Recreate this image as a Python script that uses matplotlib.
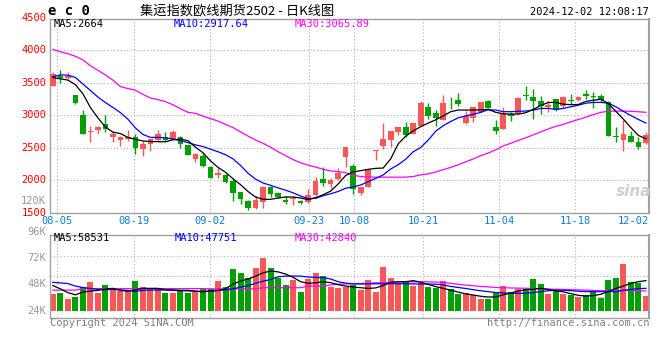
import matplotlib
matplotlib.use("Agg")
import matplotlib.pyplot as plt
import numpy as np

# daily candles, 08-02 .. 12-02 (80 trading days)
opens = [3454, 3608, 3572, 3310, 3003, 2736, 2772, 2864, 2669, 2628,
         2633, 2669, 2479, 2556, 2628, 2669, 2633, 2674, 2546, 2326,
         2377, 2208, 2079, 2085, 1992, 1823, 1685, 1572, 1669, 1900,
         1803, 1695, 1720, 1685, 1674, 1772, 2028, 1951, 2018, 2362,
         2223, 1813, 1900, 2459, 2531, 2623, 2736, 2823, 2710, 2828,
         3131, 3033, 2926, 3192, 3233, 2874, 2951, 3054, 3223, 2813,
         2787, 3018, 3018, 3315, 3285, 3213, 3131, 3249, 3146, 3233,
         3233, 3326, 3300, 3300, 3197, 2685, 2623, 2685, 2582, 2567]
highs = [3669, 3695, 3660, 3310, 3079, 2833, 2833, 3003, 2761, 2685,
         2772, 2720, 2608, 2633, 2772, 2736, 2777, 2685, 2546, 2428,
         2428, 2223, 2197, 2105, 2044, 1828, 1695, 1762, 1915, 1915,
         1823, 1762, 1762, 1695, 1864, 2054, 2208, 2033, 2187, 2515,
         2259, 1900, 2172, 2469, 2879, 2751, 2823, 2890, 2879, 3213,
         3187, 3085, 3315, 3285, 3336, 3069, 3120, 3208, 3233, 2926,
         3131, 3054, 3285, 3454, 3403, 3300, 3213, 3249, 3300, 3326,
         3300, 3387, 3362, 3326, 3213, 2813, 2931, 2751, 2659, 2736]
lows = [3444, 3490, 3555, 3170, 2710, 2597, 2720, 2736, 2597, 2530,
        2608, 2413, 2377, 2454, 2592, 2608, 2623, 2490, 2392, 2290,
        2208, 2044, 2044, 1967, 1685, 1644, 1541, 1567, 1582, 1746,
        1726, 1644, 1623, 1644, 1659, 1762, 1915, 1890, 2003, 2208,
        1797, 1777, 1900, 2315, 2479, 2515, 2700, 2659, 2710, 2828,
        2941, 2828, 2926, 3095, 3136, 2864, 2900, 3054, 3110, 2720,
        2787, 2905, 3018, 3233, 2941, 3018, 3044, 3069, 3110, 3172,
        3223, 3249, 3110, 3197, 2685, 2597, 2454, 2582, 2480, 2556]
closes = [3633, 3572, 3600, 3182, 2720, 2762, 2823, 2787, 2720, 2659,
          2659, 2505, 2556, 2633, 2710, 2618, 2736, 2556, 2392, 2403,
          2223, 2044, 2120, 1982, 1813, 1710, 1582, 1695, 1905, 1787,
          1746, 1674, 1736, 1659, 1772, 1992, 1967, 2008, 2120, 2515,
          1874, 1900, 2172, 2469, 2633, 2751, 2823, 2700, 2879, 3182,
          2992, 2951, 3187, 3182, 3172, 2982, 3120, 3208, 3110, 2762,
          3033, 2987, 3259, 3290, 3213, 3146, 3162, 3079, 3274, 3213,
          3274, 3300, 3274, 3233, 2685, 2659, 2720, 2597, 2520, 2700]

# moving averages as drawn on the chart
ma5 = [3580, 3560, 3540, 3470, 3330, 3120, 2960, 2820, 2740, 2720,
       2660, 2630, 2605, 2597, 2595, 2592, 2625, 2633, 2610, 2510,
       2425, 2300, 2200, 2125, 2025, 1935, 1830, 1745, 1710, 1710,
       1730, 1746, 1746, 1730, 1705, 1735, 1780, 1835, 1945, 2075,
       2130, 2150, 2170, 2185, 2190, 2330, 2560, 2680, 2760, 2825,
       2880, 2930, 2990, 3055, 3080, 3080, 3080, 3082, 3090, 3045,
       3022, 3018, 3018, 3040, 3090, 3150, 3197, 3197, 3170, 3162,
       3165, 3213, 3230, 3245, 3180, 3060, 2940, 2810, 2690, 2640]
ma10 = [3590, 3620, 3615, 3580, 3480, 3380, 3280, 3195, 3120, 3040,
        2940, 2805, 2705, 2660, 2660, 2655, 2635, 2610, 2580, 2545,
        2520, 2480, 2440, 2395, 2330, 2230, 2110, 2020, 1960, 1925,
        1885, 1850, 1810, 1760, 1720, 1725, 1765, 1795, 1830, 1880,
        1900, 1930, 1980, 2030, 2085, 2175, 2240, 2325, 2440, 2505,
        2620, 2755, 2840, 2905, 2960, 2990, 3015, 3045, 3085, 3080,
        3055, 3055, 3060, 3065, 3080, 3105, 3105, 3090, 3105, 3130,
        3155, 3185, 3197, 3197, 3185, 3130, 3060, 2995, 2935, 2880]
ma30 = [4010, 3975, 3945, 3905, 3850, 3760, 3690, 3620, 3540, 3440,
        3410, 3385, 3320, 3265, 3240, 3210, 3160, 3100, 3045, 3030,
        2985, 2950, 2910, 2860, 2810, 2745, 2680, 2620, 2570, 2510,
        2440, 2380, 2320, 2270, 2235, 2205, 2170, 2145, 2135, 2120,
        2080, 2060, 2052, 2050, 2050, 2050, 2050, 2050, 2060, 2085,
        2100, 2130, 2165, 2200, 2240, 2285, 2330, 2380, 2420, 2470,
        2530, 2570, 2615, 2655, 2700, 2745, 2790, 2830, 2860, 2900,
        2935, 2970, 3010, 3045, 3062, 3064, 3064, 3060, 3054, 3045]

# volume in thousands and its averages
volume = [39.3, 40.5, 34.7, 36.5, 46.0, 50.5, 40.5, 47.5, 42.9, 42.0,
          41.4, 51.5, 45.4, 43.8, 43.8, 40.5, 40.5, 42.9, 40.5, 41.4,
          43.5, 43.5, 51.1, 45.4, 62.1, 58.2, 54.2, 63.3, 72.5, 63.3,
          54.2, 47.5, 52.1, 41.4, 53.0, 58.8, 55.7, 46.0, 45.0, 46.0,
          47.5, 42.9, 52.1, 41.4, 64.3, 54.2, 49.0, 50.5, 46.9, 49.0,
          46.0, 45.0, 51.1, 43.8, 39.3, 40.5, 38.3, 34.7, 34.7, 39.9,
          46.9, 41.4, 43.8, 43.8, 53.0, 48.4, 39.3, 42.3, 39.3, 38.3,
          36.8, 38.3, 42.3, 35.9, 52.1, 53.6, 66.7, 50.5, 49.0, 37.7]
vol_ma5 = [47, 44, 40.5, 38.5, 41, 42, 42.5, 43.8, 44.4, 42.6,
           41.6, 43.2, 44.4, 44.4, 44.4, 43.2, 43, 42.6, 42.6, 41.8,
           41.4, 42, 42.5, 44, 48.5, 51, 53, 55.5, 58.6, 60.3,
           59.5, 57.5, 54.5, 50.5, 49, 49.5, 50.5, 49.6, 47.8, 46.5,
           45.6, 45, 44.4, 44.8, 47, 50, 50.5, 50.5, 51.5, 50,
           48, 46, 44.4, 42.8, 41, 39.4, 38.3, 37.2, 36.5, 36.6,
           38.5, 40.2, 42, 43.2, 43.6, 44.4, 43.4, 42.2, 41.2, 39.6,
           38, 37.4, 37.8, 39, 41.7, 44.4, 46.5, 49, 50.5, 51.5]
vol_ma10 = [49.9, 49.4, 48.8, 46.5, 45.2, 44.3, 43.5, 43.2, 43.5, 43,
            42.5, 41.7, 42.6, 42.9, 42.9, 42.9, 42.6, 42.3, 42.1, 41.8,
            41.4, 42.1, 42.5, 43, 44, 45.5, 47, 49, 51, 52.5,
            55, 55.6, 55.7, 55.6, 54.8, 54.5, 54.2, 53, 50.5, 49.2,
            48.6, 48.4, 48.5, 48.6, 48.6, 48.7, 48.7, 48.6, 48.5, 48.4,
            48.4, 48.2, 47.6, 46.2, 45.2, 44.3, 43.2, 42.2, 41.4, 40.6,
            40.2, 39.9, 39.9, 40, 40.5, 41.5, 42.2, 42.8, 42.7, 42.3,
            41.8, 41.5, 41.4, 41.4, 41.4, 41.4, 42.5, 43.5, 44.2, 44.4]
vol_ma30 = [42.8, 42.8, 42.8, 42.8, 44.2, 44.2, 44.2, 44.2, 44.2, 44.2,
            44.2, 44.2, 44.2, 44.2, 44.2, 44.2, 44.2, 44.2, 44.2, 44.2,
            44.2, 44, 44, 44, 44, 44, 44, 44, 45, 45,
            45, 45, 45, 45, 46.5, 46.5, 46.5, 47.5, 48.2, 48.4,
            48.6, 48.8, 49.1, 49.5, 49.7, 50, 50.2, 50.3, 50.4, 50.5,
            50.4, 50.2, 49.8, 49, 48.2, 47.4, 46.8, 46.2, 45.8, 45.2,
            45, 44.8, 44.6, 44.5, 44.3, 44.1, 43.8, 43.6, 43.4, 43.2,
            43, 42.8, 42.5, 42.3, 42.4, 42.5, 42.6, 42.6, 42.3, 42]

date_labels = ["08-05", "08-19", "09-02", "09-23", "10-08", "10-21", "11-04", "11-18", "12-02"]
date_idx = [1, 11, 21, 34, 40, 49, 59, 69, 79]
price_ticks = [1500, 2000, 2500, 3000, 3500, 4000, 4500]
vol_ticks = [24, 48, 72, 96]

RED = "#f65757"
GREEN = "#00a000"
GRID = "#b4b4b4"
FRAME = "#a0a0a0"
W, H = 660, 360
CJK = ["Noto Sans CJK SC", "DejaVu Sans"]
MONO = "DejaVu Sans Mono"


def fx(px):
    return px / W


def fy(py):
    return 1 - py / H


fig = plt.figure(figsize=(W / 100, H / 100), dpi=100)
ax = fig.add_axes([fx(50), fy(213), fx(649.3) - fx(50), fy(18.5) - fy(213)])
axv = fig.add_axes([fx(50), fy(318), fx(649.3) - fx(50), fy(234.7) - fy(318)])

x = np.arange(len(closes))
up = np.array(closes) >= np.array(opens)
colors = np.where(up, RED, GREEN)

# sina draws its date grid on a slightly wider step than the candles
grid_x = [(d - 0.41) * 1.0147 for d in date_idx[:-1]]

for a in (ax, axv):
    a.set_xlim(-0.38, 79.45)
    a.set_xticks([])
    a.set_yticks([])
    for side, sp in a.spines.items():
        sp.set_color(FRAME)
        sp.set_linewidth(1.5 if side == "right" else 1.0)
    for g in grid_x:
        a.axvline(g, color=GRID, lw=0.8, ls=(0, (1, 2)), zorder=0)

# --- price panel
ax.set_ylim(1500, 4485)
for p in price_ticks[1:-1]:
    ax.axhline(p, color=GRID, lw=0.8, ls=(0, (1, 2)), zorder=0)

ax.vlines(x, lows, highs, colors=colors, lw=1.0, zorder=2)
body_lo = np.minimum(opens, closes)
body_h = np.maximum(np.abs(np.subtract(closes, opens)), 12)
ax.bar(x, body_h, bottom=body_lo, width=0.76, color=colors, lw=0, zorder=3)

ax.plot(x, ma30, color="#ff00ff", lw=0.9, zorder=4)
ax.plot(x, ma10, color="#0000ff", lw=0.9, zorder=4)
ax.plot(x, ma5, color="black", lw=0.9, zorder=4)

ytr = ax.get_yaxis_transform()
for p in price_ticks:
    ax.text(-0.006, p, str(p), transform=ytr, ha="right", va="center",
            color="red", family=MONO, fontsize=7.5, clip_on=False)

xtr = ax.get_xaxis_transform()
for lab, g in zip(date_labels[:-1], grid_x):
    ax.text(g, -0.043, lab, transform=xtr, ha="center", va="center",
            color="#0a7fd6", family=MONO, fontsize=7.5, clip_on=False)
ax.text(1.0, -0.043, date_labels[-1], transform=ax.transAxes, ha="right", va="center",
        color="#0a7fd6", family=MONO, fontsize=7.5, clip_on=False)

fig.text(fx(54), fy(24), "MA5:2664", color="black", family=MONO, fontsize=7.5, va="center")
fig.text(fx(174), fy(24), "MA10:2917.64", color="#0000ff", family=MONO, fontsize=7.5, va="center")
fig.text(fx(295), fy(24), "MA30:3065.89", color="#ff00ff", family=MONO, fontsize=7.5, va="center")
fig.text(fx(46), fy(201), "120K", color="#9a9a9a", family=MONO, fontsize=7.5, ha="right", va="center")
fig.text(fx(634), fy(192), "sina", color="#cfcfcf", fontsize=11, style="italic",
         weight="bold", ha="center", va="center")

# --- volume panel
VOL_FLOOR = 24
axv.set_ylim(17.3, 93.5)
lo, hi = axv.get_ylim()
for q in (0.25, 0.5, 0.75):
    axv.axhline(lo + (hi - lo) * q, color=GRID, lw=0.8, ls=(0, (1, 2)), zorder=0)

axv.bar(x, np.array(volume) - VOL_FLOOR, bottom=VOL_FLOOR, width=0.8, color=colors, lw=0, zorder=2)
axv.plot(x, vol_ma30, color="#ff00ff", lw=0.9, zorder=3)
axv.plot(x, vol_ma10, color="#0000ff", lw=0.9, zorder=3)
axv.plot(x, vol_ma5, color="black", lw=0.9, zorder=3)

vtr = axv.get_yaxis_transform()
for v in vol_ticks:
    axv.text(-0.006, v, f"{v}K", transform=vtr, ha="right", va="center",
             color="#9a9a9a", family=MONO, fontsize=7.5, clip_on=False)

fig.text(fx(54), fy(238), "MA5:58531", color="black", family=MONO, fontsize=7.5, va="center")
fig.text(fx(175), fy(238), "MA10:47751", color="#0000ff", family=MONO, fontsize=7.5, va="center")
fig.text(fx(295), fy(238), "MA30:42840", color="#ff00ff", family=MONO, fontsize=7.5, va="center")

# --- header / footer
fig.text(fx(48), fy(11), "e c 0", color="black", family=MONO, weight="bold", fontsize=10, va="center")
fig.text(fx(140), fy(10.5), "集运指数欧线期货2502 - 日K线图", family=CJK, fontsize=9.5,
         color="black", va="center")
fig.text(fx(649), fy(12), "2024-12-02 12:08:17", family=MONO, fontsize=7.5,
         color="black", ha="right", va="center")
fig.text(fx(50), fy(323), "Copyright 2024 SINA.COM", family=MONO, fontsize=7.5,
         color="#808080", va="center")
fig.text(fx(649), fy(323), "http://finance.sina.com.cn", family=MONO, fontsize=7.5,
         color="#808080", ha="right", va="center")

fig.savefig("out.png", dpi=100, facecolor="white")
plt.close(fig)
